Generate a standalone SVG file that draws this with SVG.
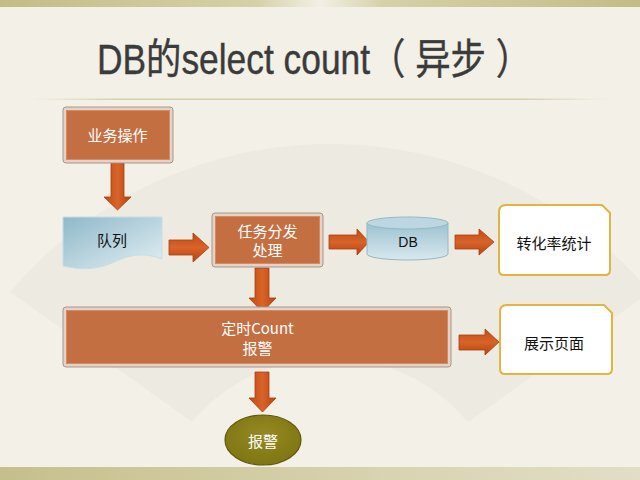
<svg xmlns="http://www.w3.org/2000/svg" width="640" height="480" viewBox="0 0 640 480">
<defs>
<linearGradient id="band" x1="0" y1="0" x2="1" y2="0">
<stop offset="0" stop-color="#c4bc86"/><stop offset="0.4" stop-color="#d6d0a8"/><stop offset="0.5" stop-color="#f2f0e4"/><stop offset="0.6" stop-color="#d6d0a8"/><stop offset="1" stop-color="#c4bc86"/>
</linearGradient>
<linearGradient id="band2" x1="0" y1="0" x2="1" y2="0">
<stop offset="0" stop-color="#c6bf8c"/><stop offset="0.6" stop-color="#d8d3b0"/><stop offset="1" stop-color="#e2dec6"/>
</linearGradient>
<linearGradient id="rule" x1="0" y1="0" x2="1" y2="0">
<stop offset="0" stop-color="#d6d0a8" stop-opacity="0"/><stop offset="0.15" stop-color="#d6d0a8"/><stop offset="0.85" stop-color="#d6d0a8"/><stop offset="1" stop-color="#d6d0a8" stop-opacity="0"/>
</linearGradient>
<linearGradient id="blue" x1="0" y1="0" x2="1" y2="1">
<stop offset="0" stop-color="#8fb8c9"/><stop offset="1" stop-color="#e2eff3"/>
</linearGradient>
<linearGradient id="cyl" x1="0" y1="0" x2="0" y2="1">
<stop offset="0" stop-color="#9cc2d1"/><stop offset="1" stop-color="#d8e8ee"/>
</linearGradient>
<linearGradient id="arrowV" x1="0" y1="0" x2="1" y2="0">
<stop offset="0" stop-color="#c24a14"/><stop offset="0.5" stop-color="#d8642a"/><stop offset="1" stop-color="#b8440f"/>
</linearGradient>
<linearGradient id="arrowH" x1="0" y1="0" x2="0" y2="1">
<stop offset="0" stop-color="#c24a14"/><stop offset="0.5" stop-color="#d8642a"/><stop offset="1" stop-color="#b8440f"/>
</linearGradient>
<radialGradient id="olive" cx="0.5" cy="0.4" r="0.6">
<stop offset="0" stop-color="#958a22"/><stop offset="1" stop-color="#7f7512"/>
</radialGradient>
</defs>
<style>
.frame{fill:#e4d2c6;stroke:#a39890;stroke-width:1}
.inner{fill:#c46f42;stroke:#d98a5e;stroke-width:1}
.wt{fill:#ffffff;font-family:"Noto Sans CJK SC","Noto Sans",sans-serif;font-size:15px;text-anchor:middle}
.bk{fill:#111111;font-family:"Noto Sans CJK SC","Noto Sans",sans-serif;font-size:15px;text-anchor:middle}
.snip{fill:#ffffff;stroke:#e2b443;stroke-width:2}
.arrV{fill:url(#arrowV);stroke:#a8400e;stroke-width:0.8}
.arrH{fill:url(#arrowH);stroke:#a8400e;stroke-width:0.8}
</style>
<rect x="0" y="0" width="640" height="480" fill="#f2f0e7"/>
<path d="M10,292 A420,420 0 0 1 650,292 L468,422 A180,180 0 0 0 192,422 Z" fill="#e8e6dd" opacity="0.6"/>
<rect x="0" y="0" width="640" height="7" fill="url(#band)"/>
<rect x="0" y="467" width="640" height="13" fill="url(#band2)"/>
<rect x="32" y="98.5" width="576" height="1.5" fill="url(#rule)"/>
<text x="97" y="74" fill="#3b3b3b" stroke="#3b3b3b" stroke-width="0.4" font-size="42" font-family="Liberation Sans,Noto Sans CJK SC,sans-serif" textLength="434" lengthAdjust="spacingAndGlyphs">DB的select count（ 异步 ）</text>
<g id="connectors">
<path class="arrV" d="M111,163 H124 V197 H131 L117.5,210 L104,197 H111 Z"/>
<path class="arrH" d="M169,240 H193 V233 L209,247.5 L193,262 V255 H169 Z"/>
<path class="arrH" d="M329,235 H357 V229 L369,242 L357,255 V249 H329 Z"/>
<path class="arrH" d="M455,235 H479 V229 L494,242 L479,255 V249 H455 Z"/>
<path class="arrV" d="M255,268 H269 V298 H276 L262.5,312 L249,298 H255 Z"/>
<path class="arrV" d="M255,372 H269 V398 H276 L262.5,412 L249,398 H255 Z"/>
<path class="arrH" d="M459,335 H485 V329 L499,342 L485,355 V350 H459 Z"/>
</g>
<g id="n_business">
<rect class="frame" x="63" y="107" width="110" height="56" rx="3"/>
<rect class="inner" x="66.5" y="110.5" width="103" height="49"/>
<text class="wt" x="117.5" y="141">业务操作</text>
</g>
<g id="n_queue">
<path d="M63,217 H162 V259 C142,251 126,256 112,263 C96,270 80,270 63,266 Z" fill="url(#blue)" stroke="#c8dde5" stroke-width="1"/>
<text class="bk" x="112" y="246">队列</text>
</g>
<g id="n_dispatch">
<rect class="frame" x="212" y="213" width="111" height="54" rx="3"/>
<rect class="inner" x="215.5" y="216.5" width="104" height="47"/>
<text class="wt" x="267.5" y="237">任务分发</text>
<text class="wt" x="267.5" y="256">处理</text>
</g>
<g id="n_db">
<path d="M367,223 V254 A40.5,6 0 0 0 448,254 V223 Z" fill="url(#cyl)" stroke="#94b8c6" stroke-width="1"/>
<ellipse cx="407.5" cy="223" rx="40.5" ry="6" fill="#bcd7e1" stroke="#94b8c6" stroke-width="1"/>
<text x="408" y="247" fill="#111" font-family="Liberation Sans,sans-serif" font-size="14" text-anchor="middle">DB</text>
</g>
<g id="n_conv">
<path class="snip" d="M506,205 H602 L610,213 V270 Q610,275 605,275 H504 Q499,275 499,270 V212 Q499,205 506,205 Z"/>
<text class="bk" x="554" y="249" font-size="16">转化率统计</text>
</g>
<g id="n_timer">
<rect class="frame" x="63" y="307" width="388" height="60" rx="3"/>
<rect class="inner" x="66.5" y="310.5" width="381" height="53"/>
<text class="wt" x="257.5" y="334">定时Count</text>
<text class="wt" x="257.5" y="354">报警</text>
</g>
<g id="n_show">
<path class="snip" d="M507,305 H604 L612,313 V369 Q612,374 607,374 H505 Q500,374 500,369 V312 Q500,305 507,305 Z"/>
<text class="bk" x="554" y="349" font-size="16">展示页面</text>
</g>
<g id="n_alarm">
<ellipse cx="263" cy="440" rx="38" ry="25" fill="url(#olive)" stroke="#5f570c" stroke-width="1.2"/>
<text class="wt" x="263" y="447" font-size="16">报警</text>
</g>
</svg>
